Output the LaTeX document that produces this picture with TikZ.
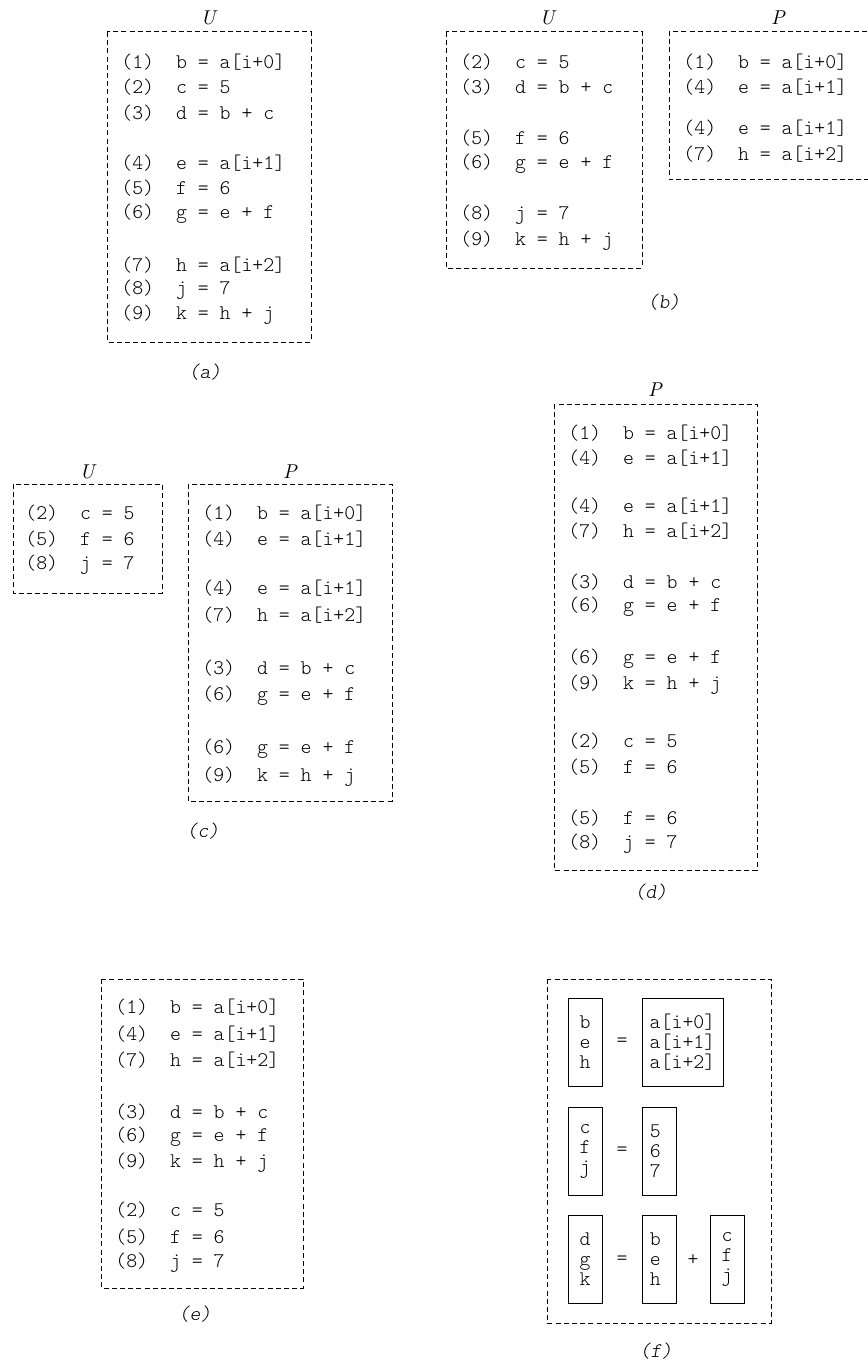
\documentclass[tikz,border=0pt]{standalone}
\usepackage{fontspec}
\setmonofont{lmmonolt10-regular.otf}[ItalicFont=lmmonolt10-oblique.otf]
\begin{document}
\begin{tikzpicture}[x=0.5pt,y=-0.5pt,
  frame/.style={draw=black,line width=0.5pt,dash pattern=on 2.5pt off 1.6pt},
  code/.style={anchor=west,inner sep=0pt,font=\ttfamily\fontsize{10.4}{11}\selectfont},
  lbl/.style={inner sep=0pt,font=\rmfamily\itshape\fontsize{10}{12}\selectfont},
  captxt/.style={inner sep=0pt,font=\ttfamily\itshape\fontsize{10.4}{11}\selectfont},
  vbox/.style={draw=black,line width=0.5pt,inner sep=0pt,minimum width=17pt,minimum height=44pt,align=center,font=\ttfamily\fontsize{10.4}{10}\selectfont},
  vboxl/.style={vbox,text width=9.75pt,align=left},
  op/.style={inner sep=0pt,font=\ttfamily\fontsize{10.4}{11}\selectfont}]
\useasboundingbox (0,0) rectangle (867,1364);
% ---------------- (a)
\node[lbl] (aU) at (208,18) {U};
\draw[frame] (107,32) rectangle (311,342);
\node[code] (a1) at (121,62)  {(1)~~b = a[i+0]};
\node[code] (a2) at (121,87)  {(2)~~c = 5};
\node[code] (a3) at (121,113) {(3)~~d = b + c};
\node[code] (a4) at (121,163) {(4)~~e = a[i+1]};
\node[code] (a5) at (121,188) {(5)~~f = 6};
\node[code] (a6) at (121,214) {(6)~~g = e + f};
\node[code] (a7) at (121,265) {(7)~~h = a[i+2]};
\node[code] (a8) at (121,290) {(8)~~j = 7};
\node[code] (a9) at (121,315) {(9)~~k = h + j};
\node[captxt] (capa) at (205,372) {(a)};
% ---------------- (b)
\node[lbl] (bU) at (547,18) {U};
\draw[frame] (446,32) rectangle (642,268);
\node[code] (b2) at (460,62)  {(2)~~c = 5};
\node[code] (b3) at (460,87)  {(3)~~d = b + c};
\node[code] (b5) at (460,138) {(5)~~f = 6};
\node[code] (b6) at (460,164) {(6)~~g = e + f};
\node[code] (b8) at (460,215) {(8)~~j = 7};
\node[code] (b9) at (460,241) {(9)~~k = h + j};
\node[lbl] (bP) at (778,18) {P};
\draw[frame] (875,32) -- (669,32) -- (669,180) -- (875,180);
\node[code] (bp1) at (683,62)  {(1)~~b = a[i+0]};
\node[code] (bp2) at (683,87)  {(4)~~e = a[i+1]};
\node[code] (bp3) at (683,128) {(4)~~e = a[i+1]};
\node[code] (bp4) at (683,154) {(7)~~h = a[i+2]};
\node[captxt] (capb) at (664,302) {(b)};
% ---------------- (c)
\node[lbl] (cU) at (87,472) {U};
\draw[frame] (13,484) rectangle (162,593);
\node[code] (c2) at (25,513) {(2)~~c = 5};
\node[code] (c5) at (25,539) {(5)~~f = 6};
\node[code] (c8) at (25,565) {(8)~~j = 7};
\node[lbl] (cP) at (290,472) {P};
\draw[frame] (188,484) rectangle (392,801);
\node[code] (cp1) at (202,513) {(1)~~b = a[i+0]};
\node[code] (cp2) at (202,539) {(4)~~e = a[i+1]};
\node[code] (cp3) at (202,588) {(4)~~e = a[i+1]};
\node[code] (cp4) at (202,615) {(7)~~h = a[i+2]};
\node[code] (cp5) at (202,668) {(3)~~d = b + c};
\node[code] (cp6) at (202,696) {(6)~~g = e + f};
\node[code] (cp7) at (202,749) {(6)~~g = e + f};
\node[code] (cp8) at (202,777) {(9)~~k = h + j};
\node[captxt] (capc) at (203,831) {(c)};
% ---------------- (d)
\node[lbl] (dP) at (655,390) {P};
\draw[frame] (554,404) rectangle (757,870);
\node[code] (d1)  at (568,433) {(1)~~b = a[i+0]};
\node[code] (d2)  at (568,458) {(4)~~e = a[i+1]};
\node[code] (d3)  at (568,506) {(4)~~e = a[i+1]};
\node[code] (d4)  at (568,531) {(7)~~h = a[i+2]};
\node[code] (d5)  at (568,582) {(3)~~d = b + c};
\node[code] (d6)  at (568,607) {(6)~~g = e + f};
\node[code] (d7)  at (568,659) {(6)~~g = e + f};
\node[code] (d8)  at (568,685) {(9)~~k = h + j};
\node[code] (d9)  at (568,741) {(2)~~c = 5};
\node[code] (d10) at (568,767) {(5)~~f = 6};
\node[code] (d11) at (568,818) {(5)~~f = 6};
\node[code] (d12) at (568,844) {(8)~~j = 7};
\node[captxt] (capd) at (651,892) {(d)};
% ---------------- (e)
\draw[frame] (101,979) rectangle (303,1288);
\node[code] (e1) at (115,1007) {(1)~~b = a[i+0]};
\node[code] (e2) at (115,1034) {(4)~~e = a[i+1]};
\node[code] (e3) at (115,1060) {(7)~~h = a[i+2]};
\node[code] (e4) at (115,1112) {(3)~~d = b + c};
\node[code] (e5) at (115,1137) {(6)~~g = e + f};
\node[code] (e6) at (115,1163) {(9)~~k = h + j};
\node[code] (e7) at (115,1210) {(2)~~c = 5};
\node[code] (e8) at (115,1237) {(5)~~f = 6};
\node[code] (e9) at (115,1263) {(8)~~j = 7};
\node[captxt] (cape) at (195,1314) {(e)};
% ---------------- (f)
\draw[frame] (547,979) rectangle (771,1323);
\node[vbox] (f1l) at (585,1042.5) {b\\e\\h};
\node[op]   (f1e) at (622,1042.5) {=};
\node[vbox,minimum width=40.5pt] (f1r) at (682.5,1042.5) {a[i+0]\\a[i+1]\\a[i+2]};
\node[vbox] (f2l) at (585,1151) {c\\f\\j};
\node[op]   (f2e) at (622,1151) {=};
\node[vboxl] (f2r) at (659.5,1151) {5\\6\\7};
\node[vbox] (f3l) at (585,1259) {d\\g\\k};
\node[op]   (f3e) at (622,1260) {=};
\node[vboxl] (f3m) at (659.5,1259) {b\\e\\h};
\node[op]   (f3p) at (693,1260) {+};
\node[vbox] (f3r) at (727,1259) {c\\f\\j};
\node[captxt] (capf) at (656,1351) {(f)};
\end{tikzpicture}
\end{document}
